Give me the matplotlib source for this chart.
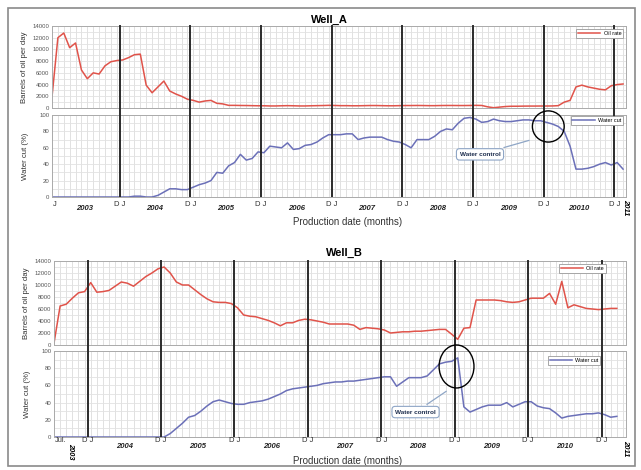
import matplotlib
matplotlib.use('Agg')
import matplotlib.pyplot as plt
import matplotlib.transforms as mtransforms
from matplotlib.patches import Ellipse, Rectangle

plt.rcParams['font.family'] = ['Liberation Sans', 'DejaVu Sans']

# months counted from Jan 2003 = 0
months_a = list(range(0, 98))
oil_a = [1900, 12000, 12800, 10300, 11100, 6500, 5000, 6000, 5800, 7200,
         7900, 8100, 8200, 8600, 9100, 9200, 3900, 2600, 3600, 4600,
         2900, 2400, 2000, 1500, 1300, 1000, 1200, 1300, 800, 700,
         450, 450, 430, 420, 400, 380, 380, 350, 350, 380,
         400, 380, 350, 350, 380, 400, 420, 450, 430, 400,
         400, 380, 380, 400, 420, 420, 400, 380, 380, 400,
         420, 420, 430, 420, 400, 400, 420, 430, 430, 420,
         420, 430, 450, 430, 200, 50, 150, 250, 300, 300,
         320, 330, 330, 340, 340, 350, 400, 1000, 1300, 3600,
         3900, 3600, 3400, 3200, 3100, 3800, 4000, 4100]
water_a = [0, 0, 0, 0, 0, 0, 0, 0, 0, 0,
           0, 0, 0, 0, 1, 1, 0, 0, 2, 6,
           10, 10, 9, 9, 12, 15, 17, 20, 30, 29,
           38, 42, 52, 45, 47, 55, 54, 62, 61, 60,
           66, 58, 59, 63, 64, 67, 72, 76, 76, 76,
           77, 77, 70, 72, 73, 73, 73, 70, 68, 67,
           64, 60, 70, 70, 70, 74, 80, 83, 82, 90,
           96, 97, 95, 91, 92, 95, 93, 92, 92, 93,
           94, 94, 93, 93, 91, 89, 86, 80, 62, 34,
           34, 35, 37, 40, 42, 39, 42, 34]

months_b = list(range(6, 99))
oil_b = [300, 6500, 6800, 7800, 8700, 8900, 10400, 8800, 8900, 9100,
         9800, 10500, 10300, 9800, 10600, 11400, 12000, 12700, 13000, 12000,
         10500, 10000, 10000, 9200, 8400, 7700, 7200, 7100, 7100, 6900,
         6200, 5000, 4800, 4700, 4400, 4100, 3700, 3200, 3700, 3700,
         4100, 4300, 4200, 4000, 3800, 3500, 3500, 3500, 3500, 3300,
         2600, 2900, 2800, 2700, 2500, 2000, 2100, 2200, 2200, 2300,
         2300, 2400, 2500, 2600, 2600, 1800, 950, 2800, 2900, 7500,
         7500, 7500, 7500, 7400, 7200, 7100, 7200, 7500, 7800, 7800,
         7800, 8600, 6800, 10600, 6200, 6700, 6400, 6100, 6000, 5900,
         6000, 6100, 6100]
water_b = [0, 0, 0, 0, 0, 0, 0, 0, 0, 0,
           0, 0, 0, 0, 0, 0, 0, 0, 0, 4,
           10, 16, 23, 25, 30, 36, 41, 43, 41, 39,
           38, 38, 40, 41, 42, 44, 47, 50, 54, 56,
           57, 58, 59, 60, 62, 63, 64, 64, 65, 65,
           66, 67, 68, 69, 70, 70, 59, 64, 69, 69,
           69, 71, 78, 85, 87, 88, 92, 35, 29, 32,
           35, 37, 37, 37, 40, 35, 38, 41, 41, 36,
           34, 33, 28, 22, 24, 25, 26, 27, 27, 28,
           26, 23, 24]

year_lines = [11.5, 23.5, 35.5, 47.5, 59.5, 71.5, 83.5, 95.5]
years_a = ['2003', '2004', '2005', '2006', '2007', '2008', '2009', '20010']
years_a_pos = [5.5, 17.5, 29.5, 41.5, 53.5, 65.5, 77.5, 89.5]
years_b = ['2004', '2005', '2006', '2007', '2008', '2009', '2010']
years_b_pos = [17.5, 29.5, 41.5, 53.5, 65.5, 77.5, 89.5]

W, H = 641, 470
OIL_C = '#e0534a'
WATER_C = '#6b70b8'


def rect(l, t, r, b):
    return [l / W, 1 - b / H, (r - l) / W, (b - t) / H]


def style_axes(ax, xlim, ylim, major, minor, tick_fmt):
    ax.set_xlim(*xlim)
    ax.set_ylim(*ylim)
    ax.set_xticks(range(int(xlim[0]), int(xlim[1]) + 1), minor=True)
    ax.set_xticks([])
    ax.set_yticks(range(ylim[0], ylim[1] + 1, major))
    ax.set_yticks(range(ylim[0], ylim[1] + 1, minor), minor=True)
    ax.set_yticklabels([tick_fmt(v) for v in range(ylim[0], ylim[1] + 1, major)])
    ax.grid(True, which='minor', axis='x', color='#dcdcdc', lw=0.6)
    ax.grid(True, which='both', axis='y', color='#e2e2e2', lw=0.6)
    ax.tick_params(axis='both', which='both', length=0, labelsize=4.3,
                   labelcolor='#555555', pad=2)
    for s in ax.spines.values():
        s.set_color('#aaaaaa')
        s.set_linewidth(0.7)
    ax.set_axisbelow(True)


fig = plt.figure(figsize=(W / 100, H / 100), dpi=100)
fig.patch.set_facecolor('white')


def draw_well(title, title_xy, oil_rect, water_rect, months, oil, water,
              xlim, legend_oil_anchor, legend_water_anchor):
    ax1 = fig.add_axes(rect(*oil_rect))
    ax2 = fig.add_axes(rect(*water_rect))
    style_axes(ax1, xlim, (0, 14000), 2000, 1000, lambda v: str(v))
    style_axes(ax2, xlim, (0, 100), 20, 10, lambda v: str(v))

    ax1.plot(months, oil, color=OIL_C, lw=1.1, label='Oil rate')
    ax2.plot(months, water, color=WATER_C, lw=1.1, label='Water cut')

    gap = (water_rect[1] - oil_rect[3]) / (oil_rect[3] - oil_rect[1])
    for x in year_lines:
        ax1.axvline(x, ymin=-gap, ymax=1, color='#2b2b2b', lw=1.4, clip_on=False, zorder=3)
        ax2.axvline(x, color='#2b2b2b', lw=1.4, zorder=3)

    for ax, anchor in ((ax1, legend_oil_anchor), (ax2, legend_water_anchor)):
        lg = ax.legend(loc='upper right', bbox_to_anchor=anchor, fontsize=4,
                       handlelength=4, handletextpad=0.6, borderpad=0.35,
                       fancybox=False, framealpha=1)
        lg.get_frame().set_edgecolor('#999999')
        lg.get_frame().set_linewidth(0.6)

    ax1.set_ylabel('Barrels of oil per day', fontsize=5.6, color='#333333', labelpad=3)
    ax2.set_ylabel('Water cut (%)', fontsize=5.6, color='#333333', labelpad=7)
    fig.text(title_xy[0] / W, 1 - title_xy[1] / H, title, fontsize=8,
             fontweight='bold', ha='center', va='center')
    return ax1, ax2


def xlabels(ax, y_dj, y_year, years, years_pos, y_title):
    tr = mtransforms.blended_transform_factory(ax.transData, fig.transFigure)
    for x in year_lines:
        ax.text(x, 1 - y_dj / H, 'D J', transform=tr, ha='center', va='center',
                fontsize=5.5, color='#333333')
    for lab, x in zip(years, years_pos):
        ax.text(x, 1 - y_year / H, lab, transform=tr, ha='center', va='center',
                fontsize=5.5, fontweight='bold', style='italic', color='#222222')
    ax.text(348 / W, 1 - y_title / H, 'Production date (months)',
            transform=fig.transFigure, ha='center', va='center', fontsize=7,
            color='#333333')
    return tr


# ---- Well_A
a1, a2 = draw_well('Well_A', (329, 20), (52, 26, 626, 108), (52, 115, 626, 197),
                   months_a, oil_a, water_a, (0, 97.5),
                   (1.0, 1.0), (1.0, 1.02))
tr = xlabels(a2, 204, 209, years_a, years_a_pos, 222)
a2.text(0.5, 1 - 204 / H, 'J', transform=tr, ha='center', va='center',
        fontsize=5.5, color='#333333')
a2.text(97.5, 1 - 207 / H, '2011', transform=tr, ha='center', va='center',
        fontsize=5.5, fontweight='bold', style='italic', rotation=-90)

a2.add_patch(Ellipse((84.3, 86), 5.4, 38, fill=False, ec='black', lw=1.0,
                     clip_on=False, zorder=5))
a2.annotate('Water control', xy=(81.5, 70), xytext=(72.7, 52),
            fontsize=4.6, fontweight='bold', color='#1f2f4f', ha='center', va='center',
            bbox=dict(boxstyle='round,pad=0.5', fc='white', ec='#8fa6c6', lw=0.8),
            arrowprops=dict(arrowstyle='-', color='#8fa6c6', lw=0.9), zorder=6)

# ---- Well_B
b1, b2 = draw_well('Well_B', (344, 253), (54, 261, 626, 345), (54, 351, 626, 437),
                   months_b, oil_b, water_b, (6, 99.5),
                   (0.97, 1.0), (0.96, 0.97))
tr = xlabels(b2, 441, 447, years_b, years_b_pos, 461)
b2.text(7.0, 1 - 441 / H, 'Jul.', transform=tr, ha='center', va='center',
        fontsize=5.3, color='#333333')
b2.text(8.7, 1 - 451 / H, '2003', transform=tr, ha='center', va='center',
        fontsize=5.3, fontweight='bold', style='italic', rotation=-90)
b2.text(99.4, 1 - 448 / H, '2011', transform=tr, ha='center', va='center',
        fontsize=5.5, fontweight='bold', style='italic', rotation=-90)

b2.add_patch(Ellipse((71.8, 82), 5.7, 50, fill=False, ec='black', lw=1.0,
                     clip_on=False, zorder=5))
b2.annotate('Water control', xy=(70.5, 55), xytext=(65.1, 29),
            fontsize=4.6, fontweight='bold', color='#1f2f4f', ha='center', va='center',
            bbox=dict(boxstyle='round,pad=0.5', fc='white', ec='#8fa6c6', lw=0.8),
            arrowprops=dict(arrowstyle='-', color='#8fa6c6', lw=0.9), zorder=6)

# outer frame of the screenshot
fig.add_artist(Rectangle((8 / W, 1 - 466 / H), (635 - 8) / W, (466 - 8) / H,
                         transform=fig.transFigure, fill=False, ec='#8a8a8a', lw=1.2))

fig.savefig('out.png', dpi=100)
